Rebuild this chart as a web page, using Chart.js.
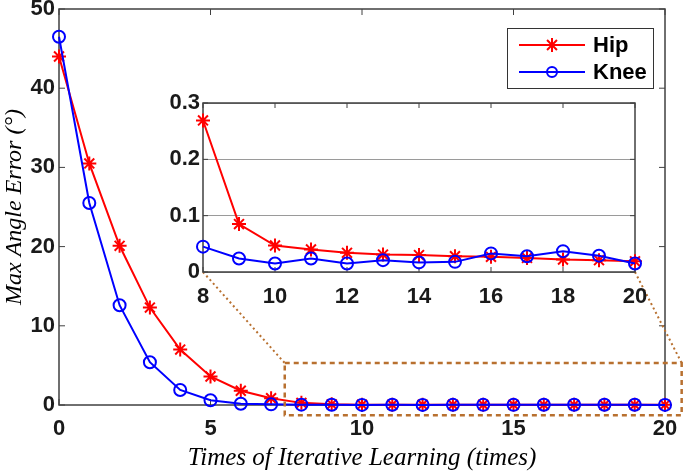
<!DOCTYPE html>
<html>
<head>
<meta charset="utf-8">
<script src="https://cdn.jsdelivr.net/npm/chart.js@4.4.1/dist/chart.umd.min.js"></script>
<style>
  html, body { margin: 0; padding: 0; background: #fff; }
  #wrap { position: relative; width: 685px; height: 473px; overflow: hidden; }
  #main { position: absolute; left: 0; top: 0; }
  #inset { position: absolute; left: 150px; top: 90px; }
</style>
</head>
<body>
<div id="wrap">
  <canvas id="main" width="685" height="473"></canvas>
  <canvas id="inset" width="510" height="230"></canvas>
</div>
<script>
// data
const iterations = [0, 1, 2, 3, 4, 5, 6, 7, 8, 9, 10, 11, 12, 13, 14, 15, 16, 17, 18, 19, 20];
const hipError = [44.0, 30.5, 20.1, 12.3, 7.0, 3.6, 1.8, 0.85, 0.269, 0.085, 0.047, 0.040, 0.034, 0.031, 0.030, 0.028, 0.027, 0.025, 0.022, 0.021, 0.019];
const kneeError = [46.5, 25.5, 12.6, 5.4, 1.9, 0.6, 0.15, 0.08, 0.045, 0.024, 0.015, 0.024, 0.015, 0.021, 0.017, 0.018, 0.033, 0.028, 0.037, 0.029, 0.015];
const seriesNames = ['Hip', 'Knee'];
const mainXTicks = [0, 5, 10, 15, 20];
const mainYTicks = [0, 10, 20, 30, 40, 50];
const insetXTicks = [8, 10, 12, 14, 16, 18, 20];
const insetYTicks = [0, 0.1, 0.2, 0.3];
const insetFrom = 8;

const RED = '#ff0000';
const BLUE = '#0000ff';
const BROWN = '#b8702f';
const FRAME = '#404040';
const tickFont = { family: 'Liberation Sans, Arial', size: 22, weight: 'bold' };
const xTitleFont = { family: 'Liberation Serif, Times New Roman', size: 25, style: 'italic' };
const yTitleFont = { family: 'Liberation Serif, Times New Roman', size: 24, style: 'italic' };

let points = (ys, from) => iterations.slice(from).map((x, i) => ({ x: x, y: ys[from + i] }));

let makeDatasets = (from) => [{
    label: seriesNames[0],
    data: points(hipError, from),
    borderColor: RED,
    backgroundColor: RED,
    borderWidth: 2,
    pointStyle: 'star',
    pointRadius: 7,
    pointBorderWidth: 2,
    pointBorderColor: RED,
    tension: 0,
    clip: false,
    order: 1
}, {
    label: seriesNames[1],
    data: points(kneeError, from),
    borderColor: BLUE,
    backgroundColor: 'rgba(0,0,0,0)',
    borderWidth: 2,
    pointStyle: 'circle',
    pointRadius: 6,
    pointBorderWidth: 2,
    pointBorderColor: BLUE,
    pointBackgroundColor: 'rgba(0,0,0,0)',
    tension: 0,
    clip: false,
    order: 0
}];

let setTicks = (list) => (scale) => { scale.ticks = list.map(v => ({ value: v })); };

// box around the plot plus inward ticks on all four sides
let frameTicks = (len) => ({
    id: 'frameTicks',
    beforeDatasetsDraw(chart) {
        let ctx = chart.ctx;
        let a = chart.chartArea;
        let sx = chart.scales.x, sy = chart.scales.y;
        ctx.save();
        ctx.strokeStyle = FRAME;
        ctx.lineWidth = 1.5;
        ctx.strokeRect(a.left, a.top, a.right - a.left, a.bottom - a.top);
        ctx.lineWidth = 1;
        ctx.beginPath();
        sx.ticks.forEach(t => {
            let px = sx.getPixelForValue(t.value);
            ctx.moveTo(px, a.bottom); ctx.lineTo(px, a.bottom - len);
            ctx.moveTo(px, a.top); ctx.lineTo(px, a.top + len);
        });
        sy.ticks.forEach(t => {
            let py = sy.getPixelForValue(t.value);
            ctx.moveTo(a.left, py); ctx.lineTo(a.left + len, py);
            ctx.moveTo(a.right, py); ctx.lineTo(a.right - len, py);
        });
        ctx.stroke();
        ctx.restore();
    }
});

let drawMarker = (ctx, style, x, y, r) => {
    ctx.beginPath();
    if (style === 'star') {
        for (let k = 0; k < 4; k++) {
            let ang = k * Math.PI / 4;
            ctx.moveTo(x - r * Math.sin(ang), y - r * Math.cos(ang));
            ctx.lineTo(x + r * Math.sin(ang), y + r * Math.cos(ang));
        }
    } else {
        ctx.arc(x, y, r, 0, Math.PI * 2);
    }
    ctx.stroke();
};

// MATLAB-like legend: line with marker in the middle
let boxLegend = {
    id: 'boxLegend',
    afterDraw(chart) {
        let ctx = chart.ctx;
        ctx.save();
        ctx.fillStyle = '#fff';
        ctx.fillRect(507, 28, 146, 60);
        ctx.strokeStyle = '#333';
        ctx.lineWidth = 1;
        ctx.strokeRect(507.5, 28.5, 146, 60);
        chart.data.datasets.forEach((ds, i) => {
            let y = 45 + i * 27;
            ctx.strokeStyle = ds.borderColor;
            ctx.lineWidth = 2;
            ctx.beginPath();
            ctx.moveTo(519, y); ctx.lineTo(585, y);
            ctx.stroke();
            drawMarker(ctx, ds.pointStyle, 552, y, ds.pointStyle === 'star' ? 7 : 5);
            ctx.fillStyle = '#000';
            ctx.font = 'bold 22px "Liberation Sans", Arial';
            ctx.textBaseline = 'middle';
            ctx.fillText(ds.label, 593, y + 1);
        });
        ctx.restore();
    }
};

let insetChart = null;

// dashed zoom box and the dotted lines up to the inset
const zoomBox = { xMin: 7.45, xMax: 20.55, yMin: -1.3, yMax: 5.3 };
let zoomLines = {
    id: 'zoomLines',
    afterDraw(chart) {
        let ctx = chart.ctx;
        let sx = chart.scales.x, sy = chart.scales.y;
        let l = sx.getPixelForValue(zoomBox.xMin), r = sx.getPixelForValue(zoomBox.xMax);
        let t = sy.getPixelForValue(zoomBox.yMax), b = sy.getPixelForValue(zoomBox.yMin);
        ctx.save();
        ctx.strokeStyle = BROWN;
        ctx.lineWidth = 2.5;
        ctx.setLineDash([5, 4]);
        ctx.strokeRect(l, t, r - l, b - t);
        if (insetChart) {
            let cv = insetChart.canvas;
            let ia = insetChart.chartArea;
            ctx.lineWidth = 2;
            ctx.setLineDash([2, 3]);
            ctx.beginPath();
            ctx.moveTo(cv.offsetLeft + ia.left, cv.offsetTop + ia.bottom); ctx.lineTo(l, t);
            ctx.moveTo(cv.offsetLeft + ia.right, cv.offsetTop + ia.bottom); ctx.lineTo(r, t);
            ctx.stroke();
        }
        ctx.restore();
    }
};

let whiteArea = {
    id: 'whiteArea',
    beforeDraw(chart) {
        let a = chart.chartArea;
        chart.ctx.save();
        chart.ctx.fillStyle = '#fff';
        chart.ctx.fillRect(a.left, a.top, a.right - a.left, a.bottom - a.top);
        chart.ctx.restore();
    }
};

insetChart = new Chart('inset', {
    type: 'line',
    data: { datasets: makeDatasets(insetFrom) },
    options: {
        responsive: false,
        animation: false,
        layout: { padding: { top: 13, right: 25, left: 0, bottom: 0 } },
        plugins: { legend: { display: false }, tooltip: { enabled: false } },
        scales: {
            x: {
                type: 'linear', min: 8, max: 20,
                afterBuildTicks: setTicks(insetXTicks),
                afterFit(s) { s.height = 48; s.paddingLeft = 0; s.paddingRight = 0; },
                grid: { display: false, drawTicks: false },
                border: { display: false },
                ticks: { font: tickFont, color: '#1a1a1a', padding: 12, maxRotation: 0 }
            },
            y: {
                type: 'linear', min: 0, max: 0.3,
                afterBuildTicks: setTicks(insetYTicks),
                afterFit(s) { s.width = 53; s.paddingTop = 0; s.paddingBottom = 0; },
                grid: { color: '#9a9a9a', lineWidth: 1, drawTicks: false },
                border: { display: false },
                ticks: { font: tickFont, color: '#1a1a1a', padding: 3 }
            }
        }
    },
    plugins: [whiteArea, frameTicks(5)]
});

let mainChart = new Chart('main', {
    type: 'line',
    data: { datasets: makeDatasets(0) },
    options: {
        responsive: false,
        animation: false,
        layout: { padding: { top: 6, right: 20, left: 0, bottom: 0 } },
        plugins: { legend: { display: false }, tooltip: { enabled: false } },
        scales: {
            x: {
                type: 'linear', min: 0, max: 20,
                afterBuildTicks: setTicks(mainXTicks),
                afterFit(s) { s.height = 68; s.paddingLeft = 0; s.paddingRight = 0; },
                grid: { display: false, drawTicks: false },
                border: { display: false },
                ticks: { font: tickFont, color: '#1a1a1a', padding: 11, maxRotation: 0 },
                title: { display: true, text: 'Times of Iterative Learning (times)', font: xTitleFont, color: '#000', padding: { top: 0, bottom: 0 } }
            },
            y: {
                type: 'linear', min: 0, max: 50,
                afterBuildTicks: setTicks(mainYTicks),
                afterFit(s) { s.width = 59; s.paddingTop = 0; s.paddingBottom = 0; },
                grid: { display: false, drawTicks: false },
                border: { display: false },
                ticks: { font: tickFont, color: '#1a1a1a', padding: 4 },
                title: { display: true, text: 'Max Angle Error (°)', font: yTitleFont, color: '#000', padding: { top: 0, bottom: 0 } }
            }
        }
    },
    plugins: [frameTicks(6), zoomLines, boxLegend]
});
</script>
</body>
</html>
